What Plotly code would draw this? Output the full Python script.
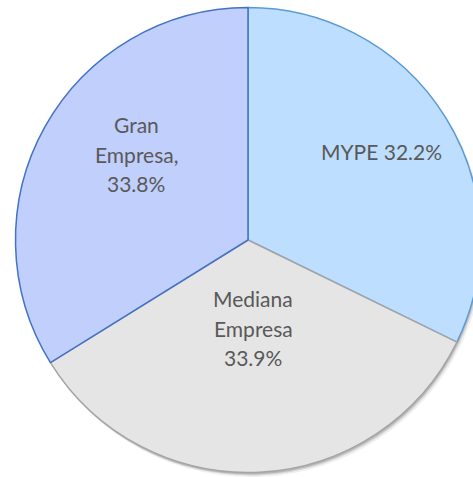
import plotly.graph_objects as go

categories = ["MYPE", "Mediana Empresa", "Gran Empresa"]
values = [32.2, 33.9, 33.8]
label_lines = [["MYPE 32.2%"], ["Mediana", "Empresa", "33.9%"], ["Gran", "Empresa,", "33.8%"]]

fill_colors = ["#bddefe", "#e5e5e5", "#c1cffc"]
line_colors = ["#5b9bd5", "#a5a5a5", "#4472c4"]

W, H = 496, 477
cx, cy, R = 248, 240, 232.5

# label anchor (pixel) positions of each slice's text block
label_pos = [(381, 151), (253, 328), (136, 154)]
line_gap = 29.5


def dom(x_shift=0, y_shift=0, grow=0):
    x0 = (cx - R - grow + x_shift) / W
    x1 = (cx + R + grow + x_shift) / W
    y0 = 1 - (cy + R + grow + y_shift) / H
    y1 = 1 - (cy - R - grow + y_shift) / H
    return dict(x=[max(0, x0), min(1, x1)], y=[max(0, y0), min(1, y1)])


fig = go.Figure()

# soft shadow layers
for (dx, dy, g, a) in [(3, 4, 0.5, 0.06), (2, 3, 0, 0.10), (1, 2, 0, 0.14)]:
    fig.add_trace(
        go.Pie(
            values=values,
            labels=categories,
            sort=False,
            direction="clockwise",
            rotation=0,
            domain=dom(dx, dy, g),
            marker=dict(colors=[f"rgba(0,0,0,{a})"] * 3, line=dict(width=0)),
            textinfo="none",
            hoverinfo="skip",
            showlegend=False,
        )
    )

fig.add_trace(
    go.Pie(
        labels=categories,
        values=values,
        sort=False,
        direction="clockwise",
        rotation=0,
        domain=dom(),
        marker=dict(colors=fill_colors, line=dict(color=line_colors, width=1.5)),
        textinfo="none",
        showlegend=False,
        hoverinfo="label+percent",
    )
)

for lines, (px, py) in zip(label_lines, label_pos):
    n = len(lines)
    for i, t in enumerate(lines):
        yy = py + (i - (n - 1) / 2) * line_gap
        fig.add_annotation(
            x=px / W,
            y=1 - yy / H,
            xref="paper",
            yref="paper",
            text=t,
            showarrow=False,
            xanchor="center",
            yanchor="middle",
            font=dict(family="Lato, Open Sans, sans-serif", size=21, color="#595959"),
        )

fig.update_layout(
    width=W,
    height=H,
    margin=dict(l=0, r=0, t=0, b=0),
    paper_bgcolor="white",
    plot_bgcolor="white",
)

fig.write_html(
    "out.html",
    config={"displayModeBar": False},
    post_script="document.body.style.margin='0';document.body.style.overflow='hidden';document.documentElement.style.overflow='hidden';",
)
